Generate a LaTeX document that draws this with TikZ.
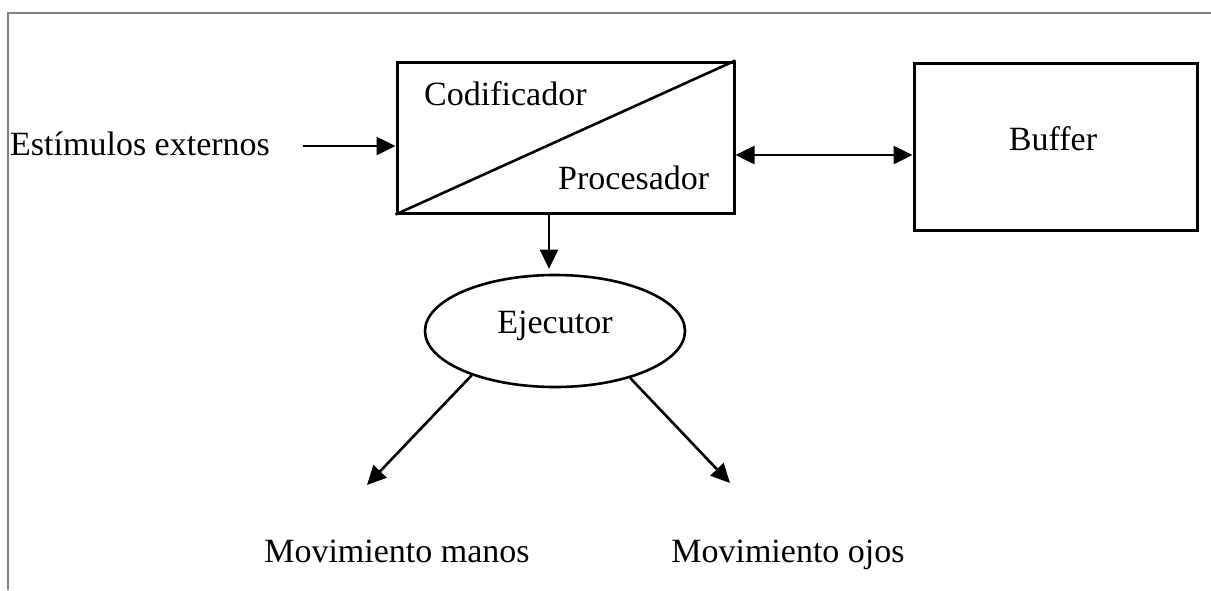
\documentclass[tikz,border=0pt]{standalone}
\usepackage{fontspec}
\setmainfont{Liberation Serif}
\usetikzlibrary{arrows.meta,shapes.geometric}
\begin{document}
\begin{tikzpicture}[x=1pt,y=-1pt,
  box/.style={draw,line width=3pt,inner sep=0pt},
  oval/.style={draw,ellipse,line width=2.6pt,inner sep=0pt},
  lbl/.style={inner sep=0pt,font=\fontsize{34}{40}\selectfont},
  arr/.style={line width=2.6pt,-{Triangle[length=19pt,width=18pt]}},
  darr/.style={line width=2.6pt,{Triangle[length=19pt,width=18pt]}-{Triangle[length=19pt,width=18pt]}},
  frame/.style={draw=gray,line width=1.5pt}]
\useasboundingbox (0,0) rectangle (1211,590);
\draw[frame] (8,590) -- (8,13) -- (1211,13);
% shapes
\node[box,minimum width=337pt,minimum height=151pt] (cod) at (565.5,137.5) {};
\draw[line width=2.6pt] (cod.south west) -- (cod.north east);
\node[box,minimum width=283pt,minimum height=167pt] (buf) at (1055.5,146.5) {};
\node[oval,minimum width=260pt,minimum height=112pt] (ej) at (555,331) {};
% labels
\node[lbl,anchor=base west] (codt) at (424,105) {Codificador};
\node[lbl,anchor=base west] (proc) at (558,189) {Procesador};
\node[lbl,anchor=base west] (est) at (10,155) {Estímulos externos};
\node[lbl,anchor=base] (buft) at (1053,150) {Buffer};
\node[lbl,anchor=base] (ejt) at (555,333) {Ejecutor};
\node[lbl,anchor=base] (mm) at (397,562) {Movimiento manos};
\node[lbl,anchor=base] (mo) at (788,562) {Movimiento ojos};
% connectors
\coordinate (ein) at (303,146);
\draw[arr] (ein) -- (ein -| cod.west);
\draw[darr] ([yshift=-17.5pt]cod.east) -- ([yshift=-17.5pt]cod.east -| buf.west);
\draw[arr] ([xshift=-16.5pt]cod.south) -- ([xshift=-6pt,yshift=5pt]ej.north);
\coordinate (tl) at (367,485);
\coordinate (tr) at (730,483);
\draw[arr] (ej.208) -- (tl);
\draw[arr] (ej.-32) -- (tr);
\end{tikzpicture}
\end{document}
